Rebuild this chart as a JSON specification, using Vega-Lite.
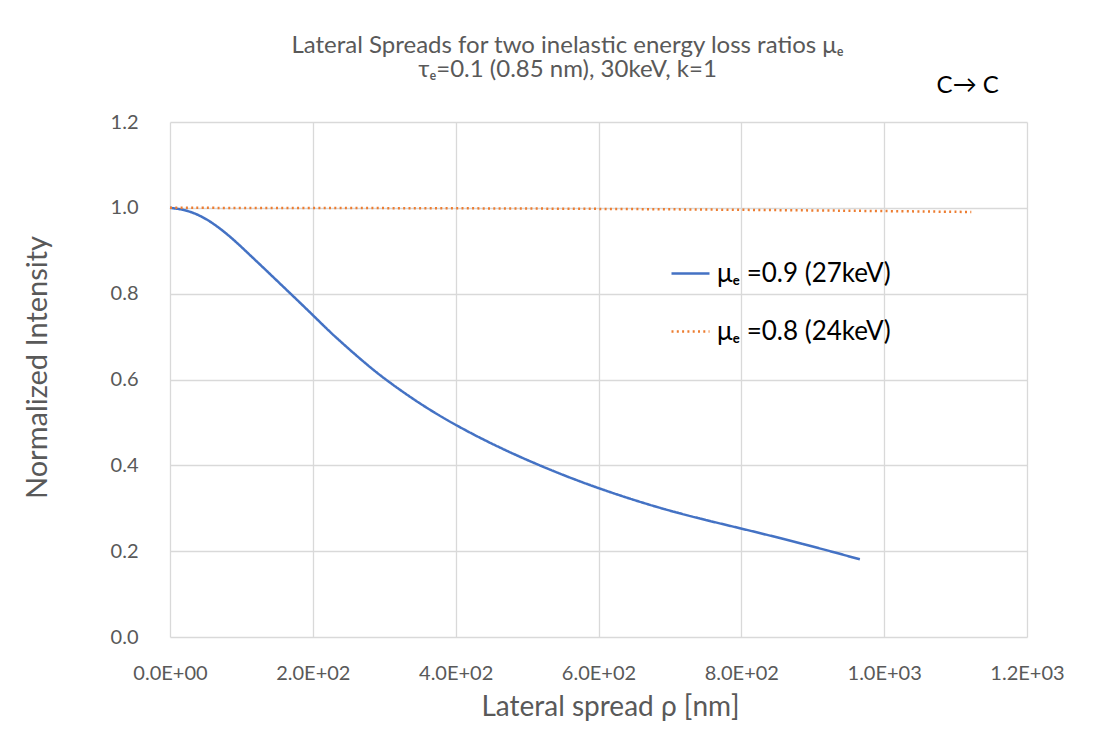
{
  "$schema": "https://vega.github.io/schema/vega-lite/v6.json",
  "width": 857,
  "height": 515,
  "autosize": {"type": "none"},
  "padding": {"left": 170, "top": 122, "right": 80, "bottom": 94},
  "background": "white",
  "config": {
    "view": {"stroke": null},
    "font": "Lato",
    "axis": {"gridColor": "#d9d9d9", "gridWidth": 1.3, "domain": false, "ticks": false, "labelColor": "#595959", "titleColor": "#595959", "labelFont": "Lato", "titleFont": "Lato", "titleFontWeight": "normal", "labelFlush": false}
  },
  "title": {
    "text": "Lateral Spreads for two inelastic energy loss ratios μₑ",
    "subtitle": "τₑ=0.1 (0.85 nm), 30keV, k=1",
    "fontSize": 24,
    "subtitleFontSize": 24,
    "fontWeight": "normal",
    "color": "#595959",
    "subtitleColor": "#595959",
    "font": "Lato",
    "subtitleFont": "Lato",
    "subtitlePadding": 0,
    "dx": -31,
    "offset": -8
  },
  "layer": [
    {
      "data": {
        "values": [
          {"rho": 0, "intensity": 1.0, "series": "μₑ =0.9 (27keV)"},
          {"rho": 20, "intensity": 0.996, "series": "μₑ =0.9 (27keV)"},
          {"rho": 40, "intensity": 0.984, "series": "μₑ =0.9 (27keV)"},
          {"rho": 60, "intensity": 0.965, "series": "μₑ =0.9 (27keV)"},
          {"rho": 86, "intensity": 0.931, "series": "μₑ =0.9 (27keV)"},
          {"rho": 110, "intensity": 0.893, "series": "μₑ =0.9 (27keV)"},
          {"rho": 133, "intensity": 0.857, "series": "μₑ =0.9 (27keV)"},
          {"rho": 170, "intensity": 0.798, "series": "μₑ =0.9 (27keV)"},
          {"rho": 199, "intensity": 0.752, "series": "μₑ =0.9 (27keV)"},
          {"rho": 226, "intensity": 0.707, "series": "μₑ =0.9 (27keV)"},
          {"rho": 273, "intensity": 0.638, "series": "μₑ =0.9 (27keV)"},
          {"rho": 303, "intensity": 0.598, "series": "μₑ =0.9 (27keV)"},
          {"rho": 350, "intensity": 0.543, "series": "μₑ =0.9 (27keV)"},
          {"rho": 399, "intensity": 0.494, "series": "μₑ =0.9 (27keV)"},
          {"rho": 462, "intensity": 0.44, "series": "μₑ =0.9 (27keV)"},
          {"rho": 532, "intensity": 0.389, "series": "μₑ =0.9 (27keV)"},
          {"rho": 601, "intensity": 0.345, "series": "μₑ =0.9 (27keV)"},
          {"rho": 700, "intensity": 0.292, "series": "μₑ =0.9 (27keV)"},
          {"rho": 800, "intensity": 0.253, "series": "μₑ =0.9 (27keV)"},
          {"rho": 887, "intensity": 0.217, "series": "μₑ =0.9 (27keV)"},
          {"rho": 966, "intensity": 0.181, "series": "μₑ =0.9 (27keV)"},
          {"rho": 0, "intensity": 1.0, "series": "μₑ =0.8 (24keV)"},
          {"rho": 200, "intensity": 0.9997, "series": "μₑ =0.8 (24keV)"},
          {"rho": 400, "intensity": 0.999, "series": "μₑ =0.8 (24keV)"},
          {"rho": 600, "intensity": 0.9977, "series": "μₑ =0.8 (24keV)"},
          {"rho": 800, "intensity": 0.9955, "series": "μₑ =0.8 (24keV)"},
          {"rho": 1000, "intensity": 0.9925, "series": "μₑ =0.8 (24keV)"},
          {"rho": 1122, "intensity": 0.9903, "series": "μₑ =0.8 (24keV)"}
        ]
      },
      "mark": {"type": "line", "interpolate": "basis", "strokeWidth": 2.5},
      "encoding": {
        "x": {
          "field": "rho", "type": "quantitative",
          "scale": {"domain": [0, 1200], "nice": false},
          "axis": {"values": [0, 200, 400, 600, 800, 1000, 1200], "labelExpr": "replace(upper(format(datum.value, '.1e')), 'E+', 'E+0')", "labelFontSize": 20, "labelPadding": 26, "title": "Lateral spread  ρ [nm]", "titleFontSize": 28, "titlePadding": 10, "titleX": 440}
        },
        "y": {
          "field": "intensity", "type": "quantitative",
          "scale": {"domain": [0, 1.2], "nice": false},
          "axis": {"values": [0, 0.2, 0.4, 0.6, 0.8, 1.0, 1.2], "format": ".1f", "labelFontSize": 20, "labelPadding": 32, "title": "Normalized Intensity", "titleFontSize": 29, "titlePadding": 58, "titleY": 245}
        },
        "color": {
          "field": "series", "type": "nominal",
          "scale": {"domain": ["μₑ =0.9 (27keV)", "μₑ =0.8 (24keV)"], "range": ["#4472C4", "#ED7D31"]},
          "legend": {"orient": "none", "legendX": 500, "legendY": 131, "title": null, "symbolType": "stroke", "symbolSize": 1444, "symbolStrokeWidth": 2.5, "labelFontSize": 26, "labelColor": "#000000", "labelFont": "Lato", "rowPadding": 24, "labelOffset": 6, "labelLimit": 400}
        },
        "strokeDash": {
          "field": "series", "type": "nominal",
          "scale": {"domain": ["μₑ =0.9 (27keV)", "μₑ =0.8 (24keV)"], "range": [[1, 0], [2, 3.3]]},
          "legend": {"orient": "none", "legendX": 500, "legendY": 131, "title": null, "symbolType": "stroke", "symbolSize": 1444, "symbolStrokeWidth": 2.5, "labelFontSize": 26, "labelColor": "#000000", "labelFont": "Lato", "rowPadding": 24, "labelOffset": 6, "labelLimit": 400}
        }
      }
    },
    {
      "data": {"values": [{"label": "C→ C", "rho": 1117, "intensity": 1.285}]},
      "mark": {"type": "text", "fontSize": 24, "font": "Lato", "color": "#000000", "align": "center", "baseline": "middle"},
      "encoding": {
        "x": {"field": "rho", "type": "quantitative", "scale": {"domain": [0, 1200], "nice": false}},
        "y": {"field": "intensity", "type": "quantitative", "scale": {"domain": [0, 1.2], "nice": false}},
        "text": {"field": "label"}
      }
    }
  ]
}
